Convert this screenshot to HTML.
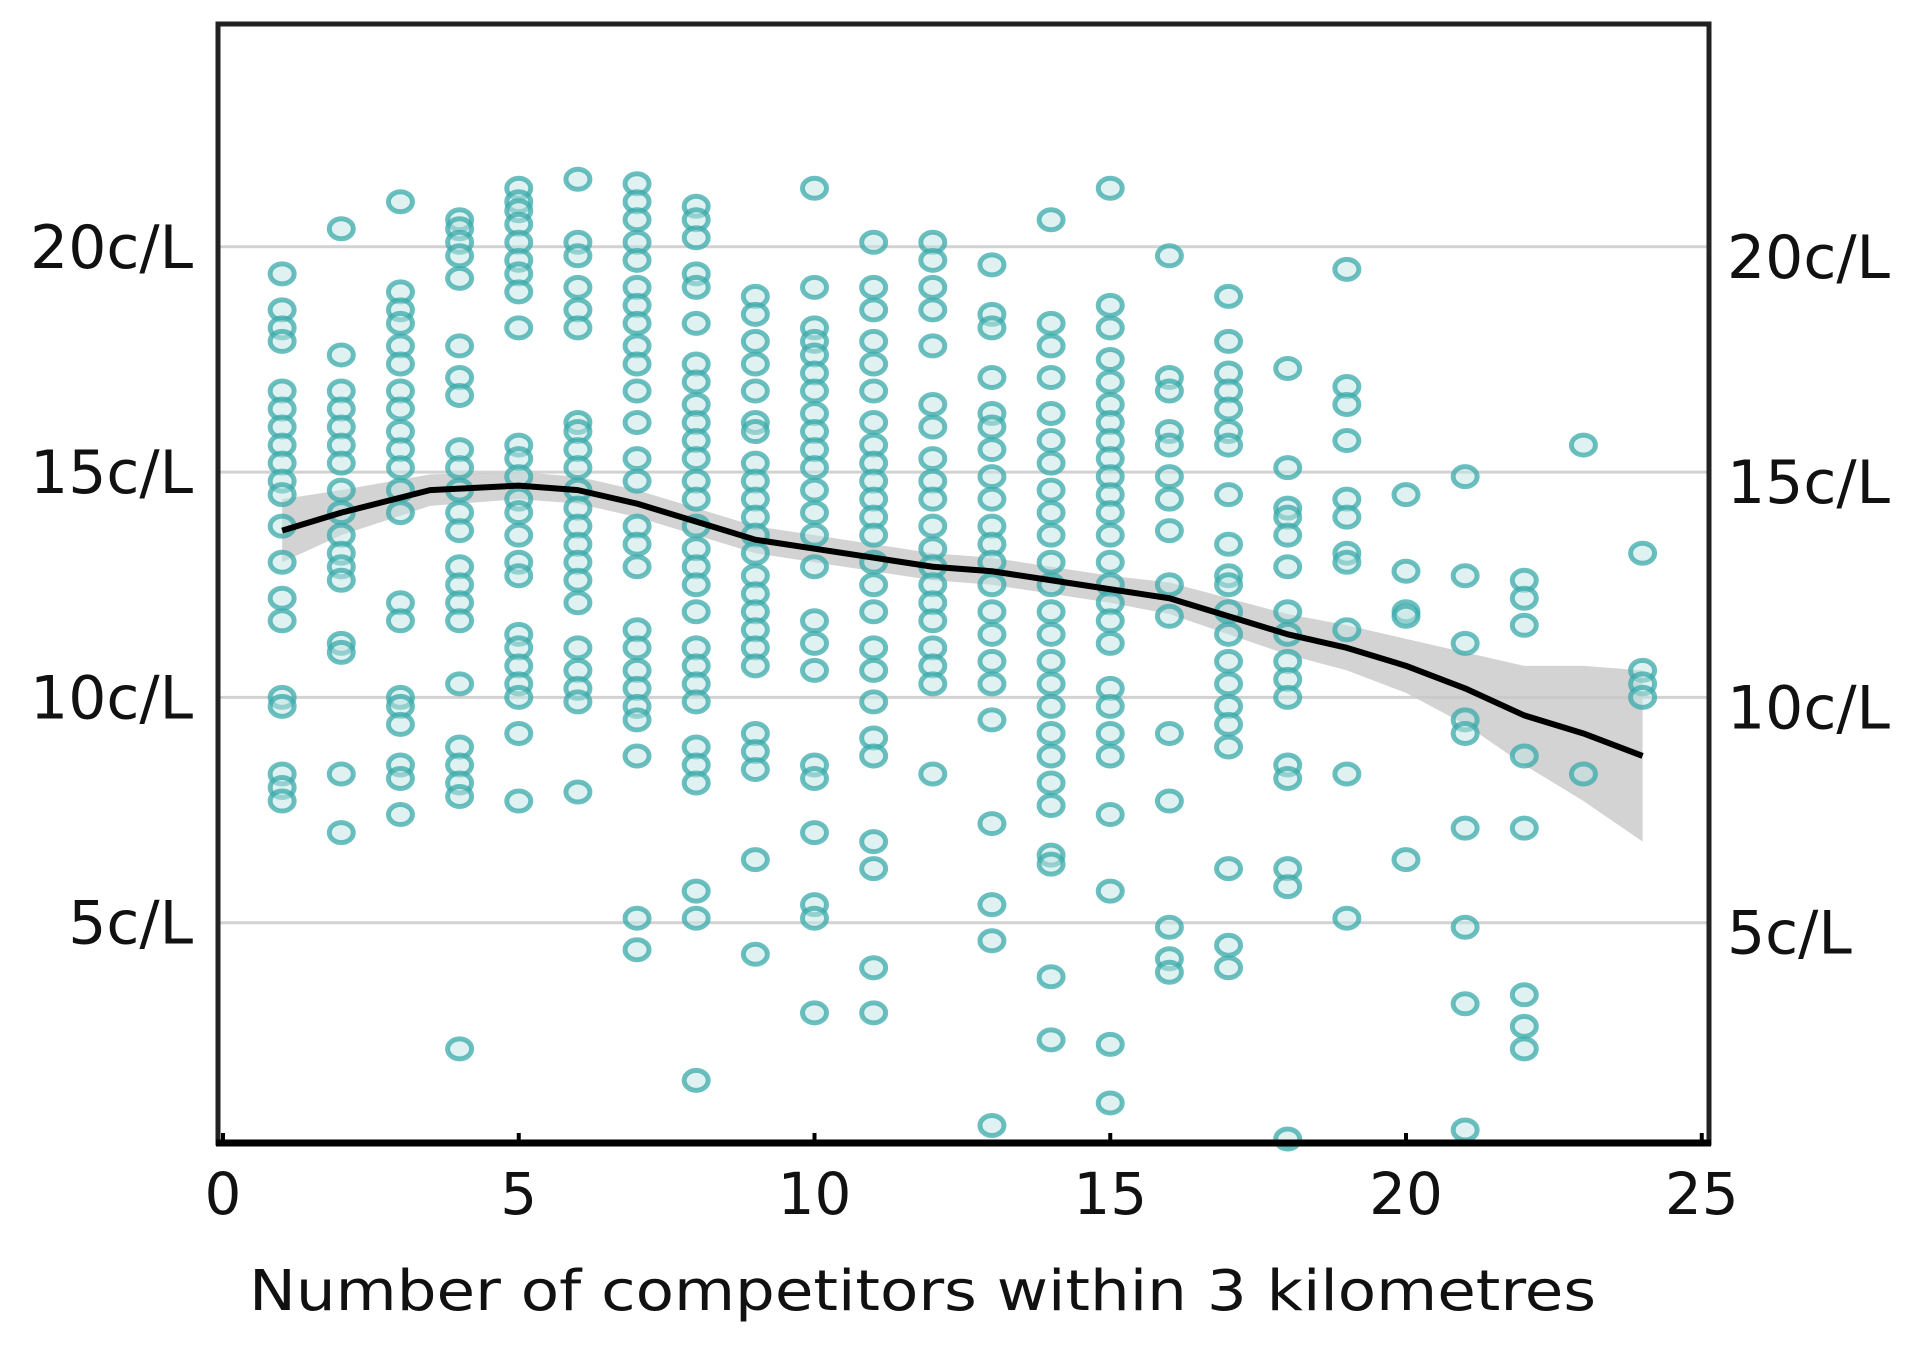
<!DOCTYPE html>
<html><head><meta charset="utf-8"><style>
html,body{margin:0;padding:0;background:#fff;}
svg{display:block;}
text{font-family:"DejaVu Sans","Liberation Sans",sans-serif;fill:#111;}
</style></head><body>
<svg id="chart" width="1920" height="1352" viewBox="0 0 1920 1352" xmlns="http://www.w3.org/2000/svg">
<g id="grid"></g>
<g id="band"></g>
<g id="pts"></g>
<g id="line"></g>
<g id="axes"></g>
</svg>
<script>
const xTicks = [0,5,10,15,20,25];
const yTicks = [5,10,15,20];
const yTickLabels = ["5c/L","10c/L","15c/L","20c/L"];
const xTitle = "Number of competitors within 3 kilometres";
const pointCols = [
[1,[19.4,18.6,18.2,17.9,16.8,16.4,16.0,15.6,15.2,14.8,14.5,13.8,13.0,12.2,11.7,10.0,9.8,8.3,8.0,7.7]],
[2,[20.4,17.6,16.8,16.4,16.0,15.6,15.2,14.6,14.1,13.6,13.2,12.9,12.6,11.2,11.0,8.3,7.0]],
[3,[21.0,19.0,18.6,18.3,17.8,17.4,16.8,16.4,15.9,15.5,15.1,14.6,14.1,12.1,11.7,10.0,9.8,9.4,8.5,8.2,7.4]],
[4,[20.6,20.4,20.1,19.8,19.3,17.8,17.1,16.7,15.5,15.1,14.6,14.1,13.7,12.9,12.5,12.1,11.7,10.3,8.9,8.5,8.1,7.8,2.2]],
[5,[21.3,21.0,20.8,20.5,20.1,19.7,19.4,19.0,18.2,15.6,15.3,14.9,14.4,14.1,13.6,13.0,12.7,11.4,11.1,10.7,10.3,10.0,9.2,7.7]],
[6,[21.5,20.1,19.8,19.1,18.6,18.2,16.1,15.9,15.5,15.1,14.6,14.2,13.8,13.4,13.0,12.6,12.1,11.1,10.6,10.2,9.9,7.9]],
[7,[21.4,21.0,20.6,20.1,19.7,19.1,18.7,18.3,17.8,17.4,16.8,16.1,15.3,14.8,13.8,13.4,12.9,11.5,11.1,10.6,10.2,9.8,9.5,8.7,5.1,4.4]],
[8,[20.9,20.6,20.2,19.4,19.1,18.3,17.4,17.0,16.5,16.1,15.7,15.3,14.8,14.4,13.8,13.3,12.9,12.5,11.9,11.1,10.7,10.3,9.9,8.9,8.5,8.1,5.7,5.1,1.5]],
[9,[18.9,18.5,17.9,17.4,16.8,16.1,15.9,15.2,14.8,14.4,14.0,13.6,13.2,12.7,12.3,11.9,11.5,11.1,10.7,9.2,8.8,8.4,6.4,4.3]],
[10,[21.3,19.1,18.2,17.9,17.6,17.2,16.8,16.3,15.9,15.5,15.1,14.6,14.1,13.6,12.9,11.7,11.2,10.6,8.5,8.2,7.0,5.4,5.1,3.0]],
[11,[20.1,19.1,18.6,17.9,17.4,16.8,16.1,15.6,15.2,14.8,14.4,14.0,13.6,13.0,12.5,11.9,11.1,10.6,9.9,9.1,8.7,6.8,6.2,4.0,3.0]],
[12,[20.1,19.7,19.1,18.6,17.8,16.5,16.0,15.3,14.8,14.4,13.8,13.3,12.9,12.5,12.1,11.7,11.1,10.7,10.3,8.3]],
[13,[19.6,18.5,18.2,17.1,16.3,16.0,15.5,14.9,14.4,13.8,13.4,13.0,12.5,11.9,11.4,10.8,10.3,9.5,7.2,5.4,4.6,0.5]],
[14,[20.6,18.3,17.8,17.1,16.3,15.7,15.2,14.6,14.1,13.6,13.0,12.5,11.9,11.4,10.8,10.3,9.8,9.2,8.7,8.1,7.6,6.5,6.3,3.8,2.4]],
[15,[21.3,18.7,18.2,17.5,17.0,16.5,16.1,15.7,15.3,14.9,14.5,14.1,13.6,13.0,12.5,12.1,11.7,11.2,10.2,9.8,9.2,8.7,7.4,5.7,2.3,1.0]],
[16,[19.8,17.1,16.8,15.9,15.6,14.9,14.4,13.7,12.5,11.8,9.2,7.7,4.9,4.2,3.9]],
[17,[18.9,17.9,17.2,16.8,16.4,15.9,15.6,14.5,13.4,12.7,12.5,11.9,11.4,10.8,10.3,9.8,9.4,8.9,6.2,4.5,4.0]],
[18,[17.3,15.1,14.2,14.0,13.6,12.9,11.9,11.4,10.8,10.4,10.0,8.5,8.2,6.2,5.8,0.2]],
[19,[19.5,16.9,16.5,15.7,14.4,14.0,13.2,13.0,11.5,8.3,5.1]],
[20,[14.5,12.8,11.9,11.8,6.4]],
[21,[14.9,12.7,11.2,9.5,9.2,7.1,4.9,3.2,0.4]],
[22,[12.6,12.2,11.6,8.7,7.1,3.4,2.7,2.2]],
[23,[15.6,8.3]],
[24,[13.2,10.6,10.3,10.0]]
];
const lineX = [1,2,3.5,5,6,7,8,9,10,11,12,13,14,15,16,17,18,19,20,21,22,23,24];
const lineY = [13.7,14.1,14.6,14.7,14.6,14.3,13.9,13.5,13.3,13.1,12.9,12.8,12.6,12.4,12.2,11.8,11.4,11.1,10.7,10.2,9.6,9.2,8.7];
const bandHalf = [0.7,0.5,0.35,0.3,0.3,0.3,0.3,0.3,0.3,0.3,0.3,0.3,0.3,0.3,0.35,0.4,0.45,0.5,0.6,0.8,1.1,1.5,1.9];

const NS="http://www.w3.org/2000/svg";
const L=218,R=1709,T=24,B=1143;
const X0=223, XU=59.15, Y0=1148, YU=45.06;
const sx=v=>X0+v*XU, sy=v=>Y0-v*YU;
function mk(tag,attrs,parent){const e=document.createElementNS(NS,tag);for(const k in attrs)e.setAttribute(k,attrs[k]);parent.appendChild(e);return e;}
const grid=document.getElementById('grid'),band=document.getElementById('band'),pts=document.getElementById('pts'),line=document.getElementById('line'),axes=document.getElementById('axes');

yTicks.forEach((v,i)=>{
  const g=mk('line',{x1:L,x2:R,y1:sy(v),y2:sy(v),stroke:'#d2d2d2','stroke-width':3},grid);
  
  
  const t1=mk('text',{x:193,y:sy(v)+21,'text-anchor':'end','font-size':60},axes);
  t1.textContent=yTickLabels[i];
  
  
  const t2=mk('text',{x:1727,y:sy(v)+31,'text-anchor':'start','font-size':60},axes);
  t2.textContent=yTickLabels[i];
  
  
});

let up=[],lo=[];
lineX.forEach((x,i)=>{up.push(sx(x)+','+sy(lineY[i]+bandHalf[i]));lo.unshift(sx(x)+','+sy(lineY[i]-bandHalf[i]));});
const bp=mk('polygon',{points:up.concat(lo).join(' '),fill:'#c8c8c8','fill-opacity':0.8},band);



pointCols.forEach(col=>{
  col[1].forEach(v=>{
    const c=mk('ellipse',{cx:sx(col[0]),cy:sy(v),rx:12,ry:10,fill:'#bfe3e2','fill-opacity':0.5,stroke:'#3aaaa9','stroke-width':5,'stroke-opacity':0.75},pts);
    
    
  });
});

const lp=mk('polyline',{points:lineX.map((x,i)=>sx(x)+','+sy(lineY[i])).join(' '),fill:'none',stroke:'#000','stroke-width':6,'stroke-linejoin':'round'},line);



const fr=mk('rect',{x:L,y:T,width:R-L,height:B-T,fill:'none',stroke:'#222','stroke-width':5},axes);


const bl=mk('line',{x1:L-2,x2:R+2,y1:B,y2:B,stroke:'#000','stroke-width':7},axes);


xTicks.forEach(v=>{
  const tk=mk('line',{x1:sx(v),x2:sx(v),y1:B-10,y2:B,stroke:'#000','stroke-width':4},axes);
  
  
  const t=mk('text',{x:sx(v),y:1214,'text-anchor':'middle','font-size':58},axes);
  t.textContent=v;
  
  
});
const xt=mk('text',{x:249,y:1310,'font-size':56,textLength:1347,lengthAdjust:'spacingAndGlyphs'},axes);
xt.textContent=xTitle;


</script>
</body></html>
